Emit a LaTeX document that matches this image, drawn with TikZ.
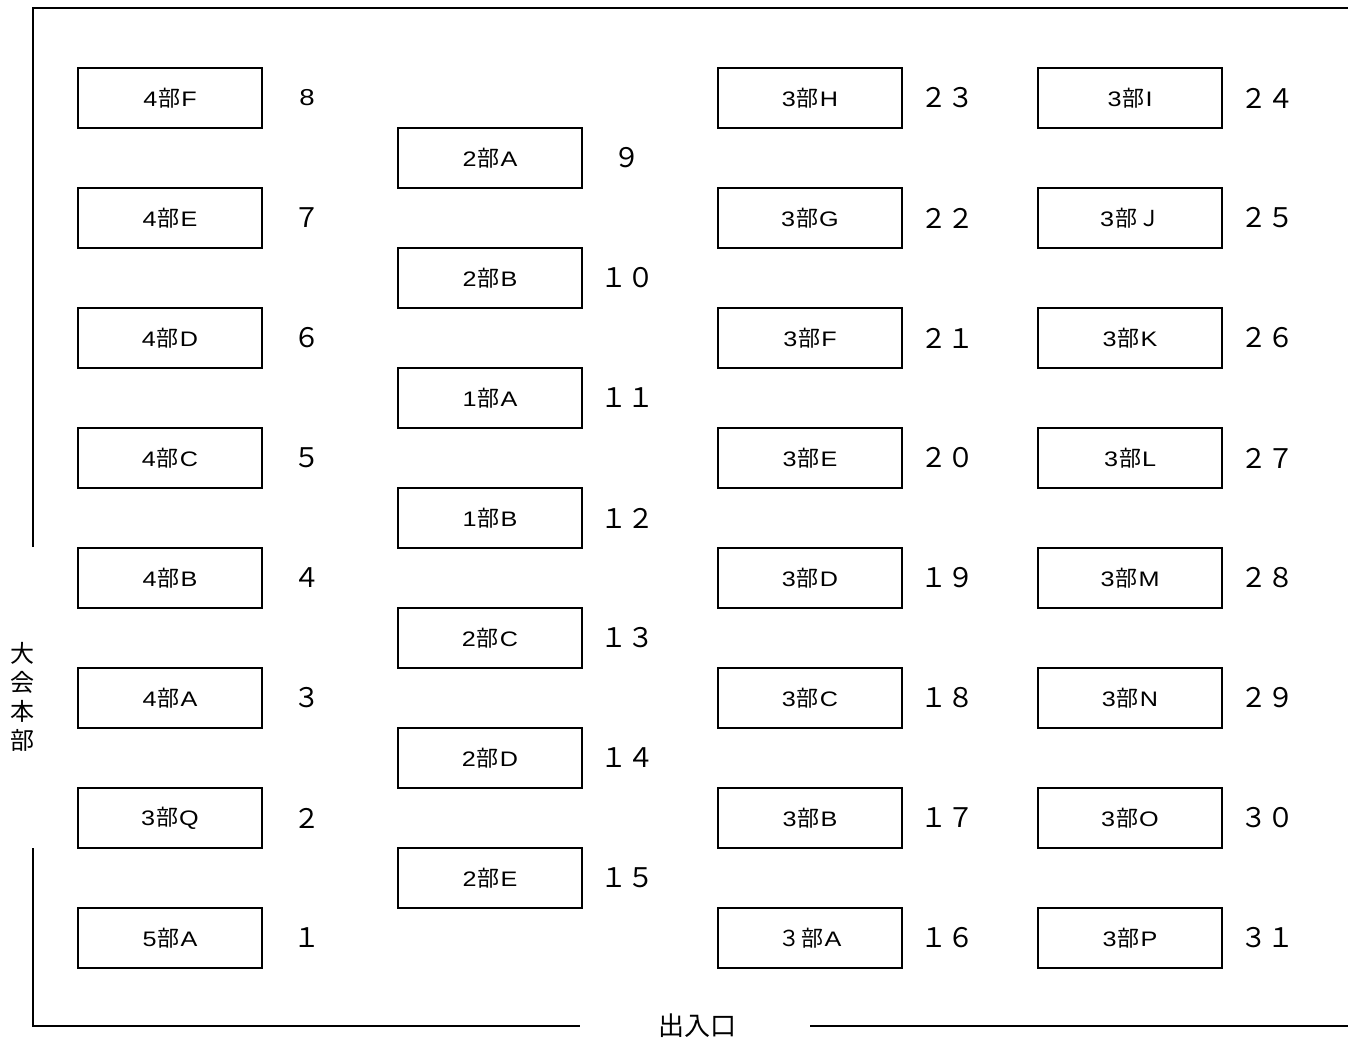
\documentclass[tikz,border=0pt]{standalone}
\usepackage{fontspec}
\setmainfont[FakeStretch=1.2]{Liberation Sans}
\newfontfamily\cjk{Noto Sans CJK JP}
\newcommand{\bu}{{\cjk\fontsize{22}{26}\selectfont\kern1pt 部\kern1pt}}
\begin{document}
\begin{tikzpicture}[x=1pt,y=-1pt,
  booth/.style={draw,line width=1.6pt,minimum width=184pt,minimum height=60pt,inner sep=0pt,font=\fontsize{21}{25}\selectfont},
  num/.style={inner sep=0pt,font=\cjk\fontsize{27}{30}\selectfont},
  wall/.style={line width=1.6pt}]
\useasboundingbox (0,0) rectangle (1348,1039);
% walls
\draw[wall] (33,547) -- (33,8) -- (1348,8);
\draw[wall] (33,848) -- (33,1026) -- (580,1026);
\draw[wall] (810,1026) -- (1348,1026);
\node[inner sep=0pt,font=\cjk\fontsize{26}{30}\selectfont] (exit) at (697,1026) {出入口};
\node[inner sep=0pt,align=center,font=\cjk\fontsize{24}{29}\selectfont] (hq) at (22,697) {大\\会\\本\\部};
% column 1
\foreach \lab/\n/\i/\nm in {4\bu F/{\rmfamily\fontsize{23}{26}\selectfont 8}/0/c1a,4\bu E/７/1/c1b,4\bu D/６/2/c1c,4\bu C/５/3/c1d,4\bu B/４/4/c1e,4\bu A/３/5/c1f,3\bu Q/２/6/c1g,5\bu A/１/7/c1h}{
  \node[booth] (\nm) at (170,98+120*\i) {\lab};
  \node[num] (\nm n) at (307,98+120*\i) {\n};
}
% column 2
\foreach \lab/\n/\i/\nm in {2\bu A/９/0/c2a,2\bu B/１０/1/c2b,1\bu A/１１/2/c2c,1\bu B/１２/3/c2d,2\bu C/１３/4/c2e,2\bu D/１４/5/c2f,2\bu E/１５/6/c2g}{
  \node[booth] (\nm) at (490,158+120*\i) {\lab};
  \node[num] (\nm n) at (627,158+120*\i) {\n};
}
% column 3
\foreach \lab/\n/\i/\nm in {3\bu H/２３/0/c3a,3\bu G/２２/1/c3b,3\bu F/２１/2/c3c,3\bu E/２０/3/c3d,3\bu D/１９/4/c3e,3\bu C/１８/5/c3f,3\bu B/１７/6/c3g,{{\cjk\fontsize{22}{26}\selectfont ３}\bu A}/１６/7/c3h}{
  \node[booth] (\nm) at (810,98+120*\i) {\lab};
  \node[num] (\nm n) at (947,98+120*\i) {\n};
}
% column 4
\foreach \lab/\n/\i/\nm in {3\bu I/２４/0/c4a,{3\bu{\cjk\fontsize{22}{26}\selectfont Ｊ}}/２５/1/c4b,3\bu K/２６/2/c4c,3\bu L/２７/3/c4d,3\bu M/２８/4/c4e,3\bu N/２９/5/c4f,3\bu O/３０/6/c4g,3\bu P/３１/7/c4h}{
  \node[booth] (\nm) at (1130,98+120*\i) {\lab};
  \node[num] (\nm n) at (1267,98+120*\i) {\n};
}
\end{tikzpicture}
\end{document}
